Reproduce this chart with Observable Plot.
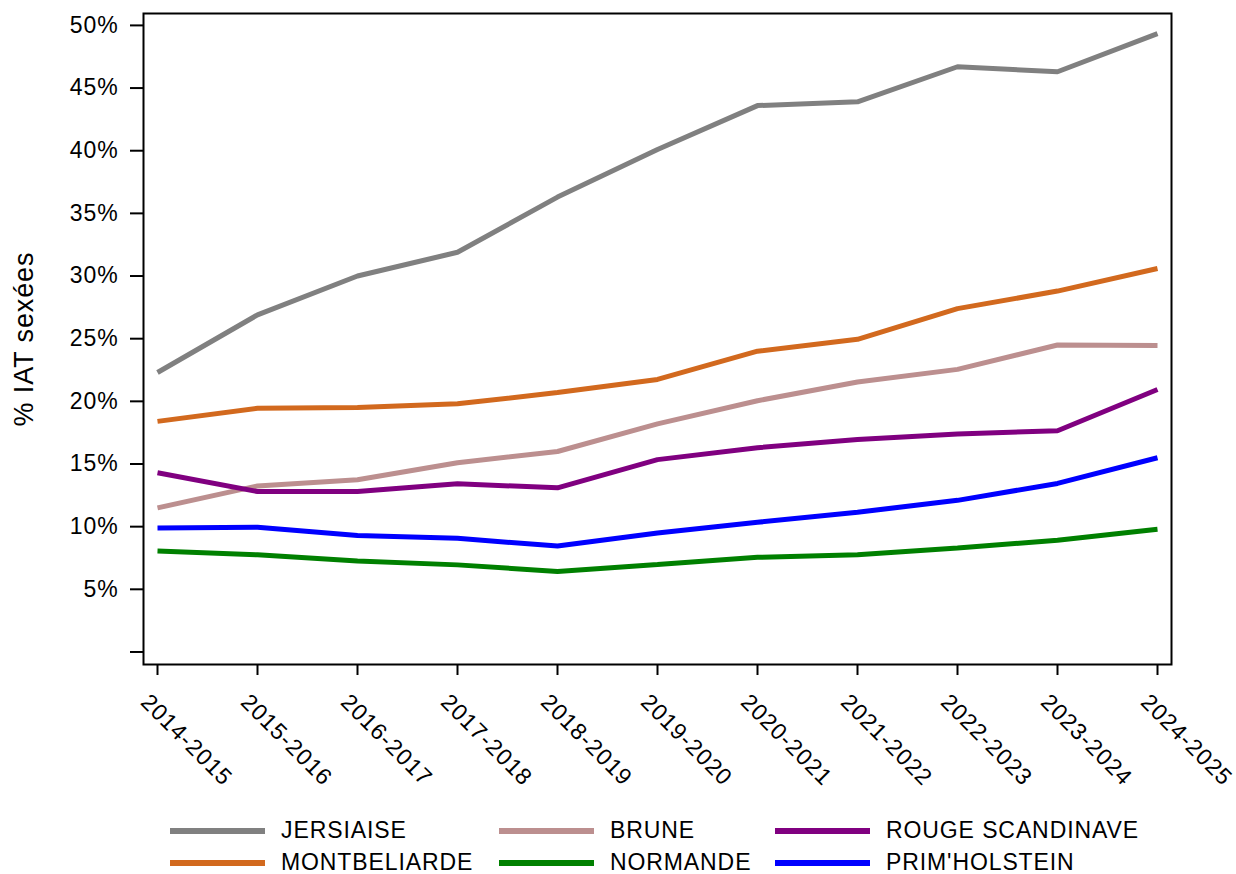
<!DOCTYPE html>
<html>
<head>
<meta charset="utf-8">
<script src="https://cdn.jsdelivr.net/npm/d3@7"></script>
<script src="https://cdn.jsdelivr.net/npm/@observablehq/plot@0.6"></script>
<style>
  html, body { margin: 0; padding: 0; background: #fff; }
  body { width: 1236px; height: 874px; position: relative; font-family: "Liberation Sans", Arial, sans-serif; overflow: hidden; }
  #chart { position: absolute; left: 0; top: 0; }
  #chart svg { overflow: visible; }
  #chart svg text { letter-spacing: 0.9px; }
  .leg { position: absolute; font-size: 23px; color: #000; line-height: 1; letter-spacing: 0.9px; white-space: nowrap; }
  .sw { position: absolute; height: 6px; width: 95px; }
</style>
</head>
<body>
<div id="chart"></div>
<div id="legend"></div>
<script>
const seasons = ["2014-2015","2015-2016","2016-2017","2017-2018","2018-2019","2019-2020","2020-2021","2021-2022","2022-2023","2023-2024","2024-2025"];
const breeds = ["JERSIAISE","MONTBELIARDE","BRUNE","NORMANDE","ROUGE SCANDINAVE","PRIM'HOLSTEIN"];
const colors = ["#808080","#D2691E","#BC8F8F","#008000","#800080","#0000FF"];
const jersiaise   = [22.3, 26.9, 30.0, 31.9, 36.3, 40.1, 43.6, 43.9, 46.7, 46.3, 49.35];
const montbeliarde= [18.4, 19.45, 19.5, 19.8, 20.7, 21.75, 24.0, 24.95, 27.4, 28.8, 30.6];
const brune       = [11.5, 13.25, 13.75, 15.1, 16.0, 18.2, 20.05, 21.55, 22.55, 24.5, 24.45];
const normande    = [8.05, 7.75, 7.25, 6.95, 6.42, 6.98, 7.55, 7.75, 8.3, 8.92, 9.8];
const rouge       = [14.3, 12.8, 12.8, 13.42, 13.1, 15.35, 16.3, 16.95, 17.4, 17.65, 20.95];
const primholstein= [9.9, 9.95, 9.3, 9.07, 8.45, 9.5, 10.35, 11.15, 12.1, 13.45, 15.5];
const yTicks = [0, 5, 10, 15, 20, 25, 30, 35, 40, 45, 50];
const yLabel = "% IAT sexées";

const series = [jersiaise, montbeliarde, brune, normande, rouge, primholstein];
const data = [];
breeds.forEach((b, i) => series[i].forEach((v, j) => data.push({breed: b, season: seasons[j], value: v})));

const font = '"Liberation Sans", Arial, sans-serif';

const chart = Plot.plot({
  width: 1236,
  height: 805,
  marginLeft: 143,
  marginRight: 65,
  marginTop: 13,
  marginBottom: 141,
  style: {fontFamily: font, fontSize: "23px", color: "#000", background: "#fff", overflow: "visible"},
  x: {type: "point", domain: seasons, padding: 0.114},
  y: {domain: [-1, 50.95]},
  color: {domain: breeds, range: colors},
  marks: [
    Plot.line(data, {x: "season", y: "value", z: "breed", stroke: "breed", strokeWidth: 5, strokeLinejoin: "miter", strokeLinecap: "butt"}),
    Plot.frame({stroke: "#000", strokeWidth: 2}),
    Plot.axisY({ticks: yTicks, tickSize: 13, tickPadding: 12, strokeWidth: 2, fontSize: 23, tickFormat: d => d === 0 ? "" : d + "%", label: null}),
    Plot.axisX({tickSize: 11, strokeWidth: 2, tickFormat: () => "", label: null}),
    Plot.text(seasons, {x: d => d, frameAnchor: "bottom", rotate: 45, textAnchor: "start", lineAnchor: "bottom", dx: -18, dy: 39, fontSize: 23, fill: "#000"}),
    Plot.text([yLabel], {frameAnchor: "left", rotate: -90, dx: -119, fontSize: 27, fill: "#000", textAnchor: "middle", lineAnchor: "middle"})
  ]
});
document.getElementById("chart").appendChild(chart);

// Legend (HTML, below the SVG)
const legend = document.getElementById("legend");
const swX = [170, 170, 499, 499, 775, 775];
const rowY = [831, 863, 831, 863, 831, 863];
breeds.forEach((b, i) => {
  const sw = document.createElement("div");
  sw.className = "sw";
  sw.style.left = swX[i] + "px";
  sw.style.top = (rowY[i] - 3) + "px";
  sw.style.background = colors[i];
  legend.appendChild(sw);
  const t = document.createElement("div");
  t.className = "leg";
  t.textContent = b;
  t.style.left = (swX[i] + 111) + "px";
  t.style.top = (rowY[i] - 12) + "px";
  legend.appendChild(t);
});
</script>
</body>
</html>
